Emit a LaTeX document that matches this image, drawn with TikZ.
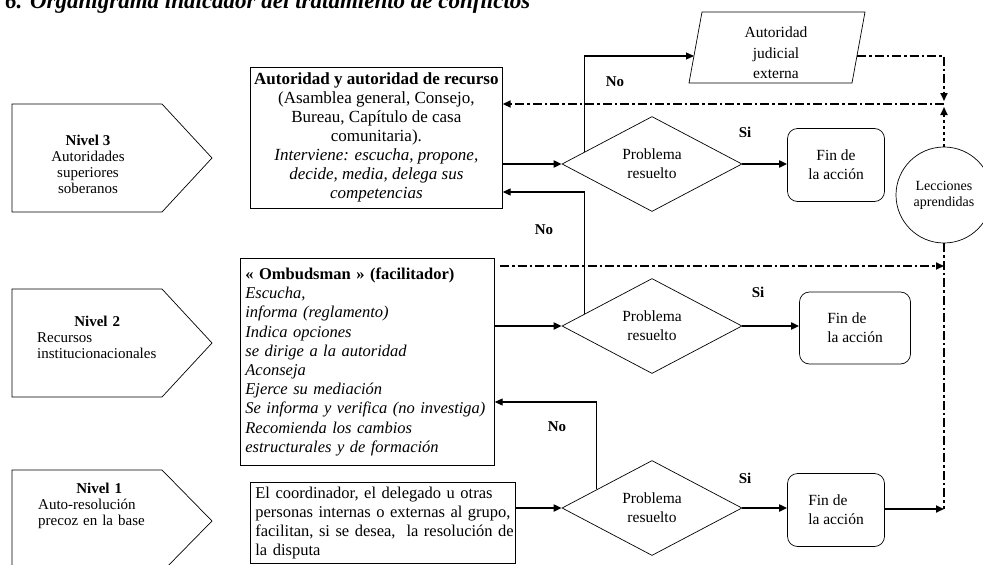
\documentclass[tikz,border=0pt]{standalone}
\usepackage{fontspec}
\setmainfont{Liberation Serif}
\usetikzlibrary{shapes.geometric,arrows.meta,calc}
\begin{document}
\begin{tikzpicture}[x=1pt,y=-1pt,
  shp/.style={draw, line width=0.7pt},
  bx/.style={shp, rectangle, inner ysep=0pt, anchor=north west},
  t17/.style={font=\fontsize{17}{19}\selectfont},
  t16/.style={font=\fontsize{16.5}{19.2}\selectfont},
  lvt/.style={font=\fontsize{15}{16}\selectfont},
  dia/.style={shp, diamond, minimum width=180pt, minimum height=95pt, inner sep=0pt, align=center, font=\fontsize{15.5}{19}\selectfont},
  fin/.style={shp, rounded corners=10pt, minimum width=97pt, minimum height=73pt, font=\fontsize{15.5}{19}\selectfont},
  lab/.style={font=\fontsize{15}{16}\selectfont\bfseries},
  tip/.style={-{Triangle[length=8pt,width=7pt]}},
  conn/.style={tip, line width=1.8pt},
  nconn/.style={tip, line width=1.1pt},
  dd/.style={dash pattern=on 9pt off 3pt on 2.5pt off 3pt, line width=1.8pt},
  ddarr/.style={dd, tip},
]
\useasboundingbox (0,0) rectangle (983,565);

\node[anchor=base west, inner sep=0pt, font=\fontsize{23}{27}\selectfont\bfseries\itshape] (title) at (5,8) {6. Organigrama indicador del tratamiento de conflictos};

% level pentagons
\draw[shp] (12,104) -- (162,104) -- (212,158) -- (162,212) -- (12,212) -- cycle;
\node[lvt, align=center] (l3) at (88,164) {\textbf{Nivel 3}\\Autoridades\\superiores\\soberanos};
\draw[shp] (12,289) -- (162,289) -- (212,343) -- (162,397) -- (12,397) -- cycle;
\node[lvt, align=left, anchor=west, text width=116pt, inner sep=0pt] (l2) at (37,337) {\makebox[120pt]{\bfseries Nivel 2}\\Recursos\\institucionacionales};
\draw[shp] (12,470) -- (162,470) -- (212,521) -- (162,572) -- (12,572) -- cycle;
\node[lvt, align=left, anchor=west, text width=112pt, inner sep=0pt] (l1) at (38,506) {\makebox[122pt]{\bfseries Nivel 1}\\Auto-resolución\\precoz en la base};

% boxes
\node[bx, t17, minimum width=252pt, minimum height=141pt, align=center] (b3) at (250,67) {\textbf{Autoridad y autoridad de recurso}\\(Asamblea general, Consejo,\\Bureau, Capítulo de casa\\comunitaria).\\\textit{Interviene: escucha, propone,}\\\textit{decide, media, delega sus}\\\textit{competencias}};
\node[bx, t16, inner xsep=5pt, text width=244pt, minimum height=207pt, align=left] (b2) at (240,258) {\textbf{« Ombudsman » (facilitador)}\\\textit{Escucha,}\\\textit{informa (reglamento)}\\\textit{Indica opciones}\\\textit{se dirige a la autoridad}\\\textit{Aconseja}\\\textit{Ejerce su mediación}\\\textit{Se informa y verifica (no investiga)}\\\textit{Recomienda los cambios}\\\textit{estructurales y de formación}};
\node[bx, t16, inner xsep=5pt, text width=255pt, minimum height=81pt, align=left] (b1) at (250,482) {\mbox{El coordinador, el delegado u otras}\\\mbox{personas internas o externas al grupo,}\\\mbox{facilitan, si se desea,\ \ la resolución de}\\\mbox{la disputa}};

% diamonds
\node[dia] (d3) at (652,164) {Problema\\resuelto};
\node[dia] (d2) at (652,326) {Problema\\resuelto};
\node[dia] (d1) at (652,508) {Problema\\resuelto};

% end boxes
\node[fin, align=center] (f3) at (836,165) {Fin de\\la acción};
\node[fin, minimum width=111pt, minimum height=72pt, align=left] (f2) at (855,328) {Fin de\\la acción};
\node[fin, align=left] (f1) at (836,510) {Fin de\\la acción};

% external judicial authority
\draw[shp] (689,83) -- (852,83) -- (865,12) -- (702,12) -- cycle;
\node[align=center, font=\fontsize{15.5}{20.5}\selectfont] (jud) at (776,53) {Autoridad\\judicial\\externa};
\coordinate (judl) at (694,56);
\coordinate (judr) at (857,56);

% lessons learned
\node[shp, circle, minimum size=96pt, inner sep=0pt, align=center, font=\fontsize{14}{16}\selectfont] (lec) at (944,195) {Lecciones\\aprendidas};

% helper coordinates
\coordinate (jn) at (944,104);
\coordinate (jt) at (944,101);
\coordinate (jb) at (944,107);
\coordinate (y192) at (0,192);
\coordinate (y402) at (0,402);
\coordinate (b3ret) at (b3.east |- y192);
\coordinate (b2ret) at (b2.east |- y402);
\coordinate (b2dd) at (500,266);
\coordinate (lk2) at (944,266);
\coordinate (lk) at (944,509);
\coordinate (d3n) at ($(d3.west)!0.256!(d3.north)$);
\coordinate (d2n) at ($(d2.west)!0.256!(d2.north)$);
\coordinate (d1n) at ($(d1.west)!0.39!(d1.north)$);

% connectors level 3
\draw[conn] (d3.west -| b3.east) -- (d3.west);
\draw[conn] (d3.east) -- (d3.east -| f3.west);
\draw[nconn] (d3n) |- (judl);
\draw[ddarr] (judr) -| (jt);
\draw[dashed, line width=1.8pt, tip] (lec.north) -- (jb);
\draw[ddarr] (jn) -- (b3.east |- jn);
% level 2
\draw[conn] (d2.west -| b2.east) -- (d2.west);
\draw[conn] (d2.east) -- (d2.east -| f2.west);
\draw[nconn] (d2n) |- (b3ret);
\draw[ddarr] (b2dd) -- (lk2);
% level 1
\draw[conn] (d1.west -| b1.east) -- (d1.west);
\draw[conn] (d1.east) -- (d1.east -| f1.west);
\draw[conn] (lk -| f1.east) -- (lk);
\draw[nconn] (d1n) |- (b2ret);
\draw[dd] (lec.south) -- (lk);

% labels
\node[lab] (no3) at (615,82) {No};
\node[lab] (si3) at (745,132) {Si};
\node[lab] (no2) at (544,230) {No};
\node[lab] (si2) at (758,292) {Si};
\node[lab] (no1) at (557,427) {No};
\node[lab] (si1) at (745,478) {Si};
\end{tikzpicture}
\end{document}
